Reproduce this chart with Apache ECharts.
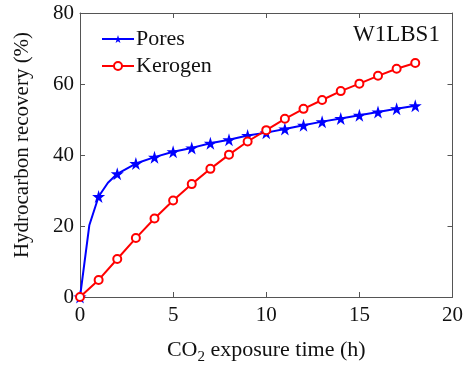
<!DOCTYPE html>
<html>
<head>
<meta charset="utf-8">
<script src="https://cdn.jsdelivr.net/npm/echarts@6/dist/echarts.min.js"></script>
<style>
    html, body { margin: 0; padding: 0; background: #fff; }
    #main { width: 466px; height: 370px; }
</style>
</head>
<body>
<div id="main"></div>
<script>
// time (h) and recovery (%)
var poresTime = [0, 0.5, 1, 1.5, 2, 3, 4, 5, 6, 7, 8, 9, 10, 11, 12, 13, 14, 15, 16, 17, 18];
var poresValue = [0, 20.2, 28.3, 32.2, 34.7, 37.6, 39.4, 40.9, 42.0, 43.3, 44.3, 45.5, 46.3, 47.3, 48.4, 49.4, 50.3, 51.2, 52.1, 53.0, 53.9];
var poresMarked = [true, false, true, false, true, true, true, true, true, true, true, true, true, true, true, true, true, true, true, true, true];

var kerogenTime = [0, 1, 2, 3, 4, 5, 6, 7, 8, 9, 10, 11, 12, 13, 14, 15, 16, 17, 18];
var kerogenValue = [0, 4.8, 10.7, 16.6, 22.1, 27.2, 31.8, 36.1, 40.1, 43.8, 47.0, 50.2, 53.0, 55.5, 58.0, 60.1, 62.3, 64.3, 65.9];

var xTicks = [0, 5, 10, 15, 20];
var yTicks = [0, 20, 40, 60, 80];

var star = 'path://M50,0 L61,35 L98,35 L68,57 L79,91 L50,70 L21,91 L32,57 L2,35 L39,35 Z';
var font = 'Liberation Serif';
var axisColor = '#555';

var poresData = poresTime.map(function (t, i) {
    var d = { value: [t, poresValue[i]] };
    if (!poresMarked[i]) d.symbol = 'none';
    return d;
});
var kerogenData = kerogenTime.map(function (t, i) {
    return [t, kerogenValue[i]];
});

// 初始化echarts实例
var myChart = echarts.init(document.getElementById('main'));

var baseX = {
    type: 'value',
    min: xTicks[0],
    max: xTicks[xTicks.length - 1],
    interval: 5,
    splitLine: { show: false },
    axisLine: { show: true, onZero: false, lineStyle: { color: axisColor, width: 1 } },
    axisTick: { show: true, inside: true, length: 5, lineStyle: { color: axisColor } }
};
var baseY = {
    type: 'value',
    min: yTicks[0],
    max: yTicks[yTicks.length - 1],
    interval: 20,
    splitLine: { show: false },
    axisLine: { show: true, onZero: false, lineStyle: { color: axisColor, width: 1 } },
    axisTick: { show: true, inside: true, length: 5, lineStyle: { color: axisColor } }
};

var option = {
    animation: false,
    backgroundColor: '#fff',
    textStyle: { fontFamily: font },
    grid: { left: 80, right: 11, top: 13, bottom: 67 },
    legend: {
        left: 96,
        top: 23,
        orient: 'vertical',
        itemGap: 5,
        itemWidth: 32,
        itemHeight: 10,
        textStyle: { fontFamily: font, fontSize: 22, color: '#111', padding: [0, 0, 0, -3] },
        data: ['Pores', 'Kerogen']
    },
    graphic: [{
        type: 'text',
        left: 353,
        top: 23,
        style: { text: 'W1LBS1', font: '23px "Liberation Serif"', fill: '#111' }
    }],
    xAxis: [
        echarts.util.merge({
            position: 'bottom',
            name: '{a|CO}{s|2}{a| exposure time (h)}',
            nameLocation: 'middle',
            nameGap: 38,
            nameTextStyle: {
                rich: {
                    a: { fontFamily: font, fontSize: 22, color: '#111' },
                    s: { fontFamily: font, fontSize: 15, color: '#111', padding: [15, 0, 0, 0] }
                }
            },
            axisLabel: { fontFamily: font, fontSize: 21, color: '#111', margin: 8 }
        }, baseX, true),
        echarts.util.merge({ position: 'top', axisLabel: { show: false } }, baseX, true)
    ],
    yAxis: [
        echarts.util.merge({
            position: 'left',
            name: 'Hydrocarbon recovery (%)',
            nameLocation: 'middle',
            nameGap: 47,
            nameTextStyle: { fontFamily: font, fontSize: 21, color: '#111', padding: [0, 0, 0, 20] },
            axisLabel: { fontFamily: font, fontSize: 21, color: '#111', margin: 6 }
        }, baseY, true),
        echarts.util.merge({ position: 'right', axisLabel: { show: false } }, baseY, true)
    ],
    series: [
        {
            name: 'Pores',
            type: 'line',
            data: poresData,
            symbol: star,
            symbolSize: 13,
            lineStyle: { color: '#0000ff', width: 2 },
            itemStyle: { color: '#0000ff' }
        },
        {
            name: 'Kerogen',
            type: 'line',
            data: kerogenData,
            symbol: 'emptyCircle',
            symbolSize: 8,
            lineStyle: { color: '#ff0000', width: 2 },
            itemStyle: { color: '#ff0000', borderColor: '#ff0000', borderWidth: 1.5 }
        }
    ]
};

myChart.setOption(option);
</script>
</body>
</html>
